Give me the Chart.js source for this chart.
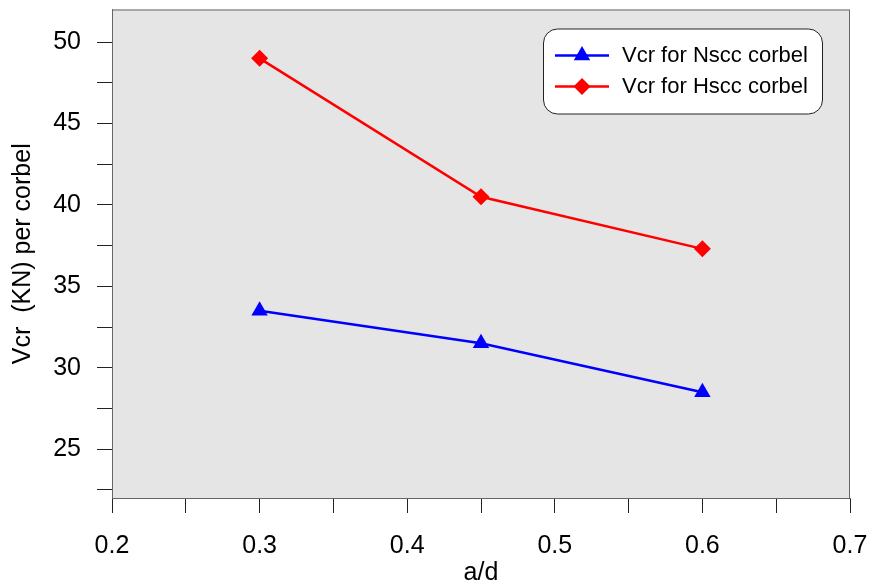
<!DOCTYPE html>
<html lang="en">
<head>
  <meta charset="UTF-8">
  <title>Vcr per corbel</title>
  <script src="https://cdn.jsdelivr.net/npm/chart.js@4.4.0/dist/chart.umd.min.js"></script>
  <style>
    body { margin: 0; background: #fff; }
    #wrap { width: 871px; height: 588px; }
  </style>
</head>
<body>
  <div id="wrap"><canvas id="chart" width="871" height="588"></canvas></div>
  <script>
    const ratios = [0.3, 0.45, 0.6];
    const nsccVcr = [33.5, 31.5, 28.5];
    const hsccVcr = [49, 40.5, 37.3];
    const seriesNames = ['Vcr for Nscc corbel', 'Vcr for Hscc corbel'];

    const xTicks = [0.2, 0.25, 0.3, 0.35, 0.4, 0.45, 0.5, 0.55, 0.6, 0.65, 0.7];
    const xTickLabels = ['0.2', '', '0.3', '', '0.4', '', '0.5', '', '0.6', '', '0.7'];
    const yTicks = [22.5, 25, 27.5, 30, 32.5, 35, 37.5, 40, 42.5, 45, 47.5, 50];
    const yTickLabels = ['', '25', '', '30', '', '35', '', '40', '', '45', '', '50'];

    const FONT = "'Liberation Sans', Arial, sans-serif";

    // grey plot background + frame
    const plotFrame = {
      id: 'plotFrame',
      beforeDraw(chart) {
        const { ctx, chartArea: a } = chart;
        ctx.save();
        ctx.fillStyle = '#e5e5e5';
        ctx.fillRect(a.left, a.top, a.right - a.left, a.bottom - a.top);
        ctx.restore();
      },
      afterDraw(chart) {
        const { ctx, chartArea: a } = chart;
        ctx.save();
        ctx.strokeStyle = '#666';
        ctx.lineWidth = 1;
        ctx.strokeRect(a.left + 0.5, a.top + 0.5, a.right - a.left - 1, a.bottom - a.top);
        ctx.restore();
      }
    };

    // boxed legend with rounded corners
    const boxLegend = {
      id: 'boxLegend',
      afterDraw(chart) {
        const { ctx, chartArea: a } = chart;
        const w = 279, h = 85;
        const x0 = a.right - 28 - w, y0 = a.top + 19;
        ctx.save();
        ctx.beginPath();
        ctx.roundRect(x0 + 0.5, y0 + 0.5, w, h, 14);
        ctx.fillStyle = '#fff';
        ctx.fill();
        ctx.strokeStyle = '#222';
        ctx.lineWidth = 1;
        ctx.stroke();
        chart.data.datasets.forEach((ds, i) => {
          const y = y0 + 27 + i * 31;
          ctx.strokeStyle = ds.borderColor;
          ctx.lineWidth = ds.borderWidth;
          ctx.beginPath();
          ctx.moveTo(x0 + 12, y);
          ctx.lineTo(x0 + 66, y);
          ctx.stroke();
          ctx.fillStyle = ds.pointBackgroundColor;
          Chart.helpers.drawPoint(ctx, {
            pointStyle: ds.pointStyle, radius: ds.pointRadius, rotation: 0, borderWidth: 0
          }, x0 + 39, y);
          ctx.fillStyle = '#000';
          ctx.font = '22px ' + FONT;
          ctx.textBaseline = 'middle';
          ctx.textAlign = 'left';
          ctx.fillText(ds.label, x0 + 79, y);
        });
        ctx.restore();
      }
    };

    new Chart(document.getElementById('chart'), {
      type: 'line',
      data: {
        datasets: [
          {
            label: seriesNames[0],
            data: ratios.map((x, i) => ({ x, y: nsccVcr[i] })),
            borderColor: '#0000ff',
            backgroundColor: '#0000ff',
            pointBackgroundColor: '#0000ff',
            pointBorderWidth: 0,
            borderWidth: 2.5,
            pointStyle: 'triangle',
            pointRadius: 9.5
          },
          {
            label: seriesNames[1],
            data: ratios.map((x, i) => ({ x, y: hsccVcr[i] })),
            borderColor: '#ff0000',
            backgroundColor: '#ff0000',
            pointBackgroundColor: '#ff0000',
            pointBorderWidth: 0,
            borderWidth: 2.5,
            pointStyle: 'rectRot',
            pointRadius: 8.5
          }
        ]
      },
      options: {
        responsive: false,
        animation: false,
        layout: { padding: { top: 7, right: 21, left: 0, bottom: 0 } },
        plugins: { legend: { display: false }, tooltip: { enabled: false } },
        scales: {
          x: {
            type: 'linear',
            min: 0.2, max: 0.7,
            afterBuildTicks: s => { s.ticks = xTicks.map(v => ({ value: v })); },
            afterFit: s => { s.height = 90; s.paddingLeft = 0; s.paddingRight = 0; },
            ticks: {
              autoSkip: false, maxRotation: 0, padding: 18,
              color: '#000', font: { family: FONT, size: 25 },
              callback: (v, i) => xTickLabels[i]
            },
            grid: { drawOnChartArea: false, drawTicks: true, tickLength: 15, tickColor: '#222' },
            border: { display: true, color: '#666' },
            title: { display: true, text: 'a/d', color: '#000', font: { family: FONT, size: 25 }, padding: { top: 0, bottom: 0 } }
          },
          y: {
            min: 22, max: 52,
            afterBuildTicks: s => { s.ticks = yTicks.map(v => ({ value: v })); },
            afterFit: s => { s.width = 112; s.paddingTop = 0; s.paddingBottom = 0; },
            ticks: {
              autoSkip: false, padding: 16,
              color: '#000', font: { family: FONT, size: 25 },
              callback: (v, i) => yTickLabels[i]
            },
            grid: { drawOnChartArea: false, drawTicks: true, tickLength: 15, tickColor: '#222' },
            border: { display: true, color: '#666' },
            title: { display: true, text: 'Vcr  (KN) per corbel', color: '#000', font: { family: FONT, size: 25 }, padding: { top: 8, bottom: 0 } }
          }
        }
      },
      plugins: [plotFrame, boxLegend]
    });
  </script>
</body>
</html>
